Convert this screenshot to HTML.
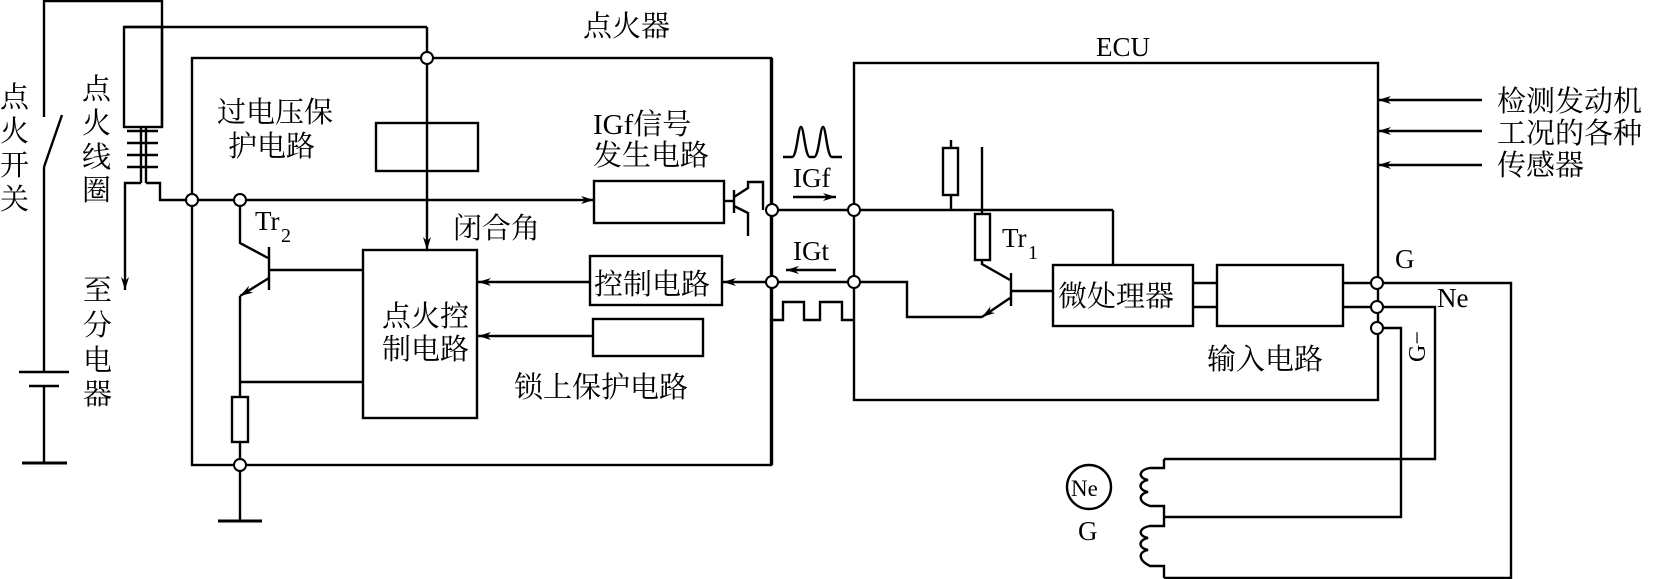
<!DOCTYPE html>
<html><head><meta charset="utf-8"><style>
html,body{margin:0;padding:0;background:#fff;}
svg{display:block;}
text{font-family:"Liberation Serif","Noto Serif CJK SC","Noto Sans CJK SC",serif;fill:#000;}
</style></head><body>
<svg width="1659" height="579" viewBox="0 0 1659 579" xmlns="http://www.w3.org/2000/svg">
<defs>
<marker id="ar" markerWidth="14" markerHeight="8" refX="13" refY="4" orient="auto" markerUnits="userSpaceOnUse">
<path d="M0,0 L13,4 L0,8 L4,4 Z" fill="#000"/></marker>
</defs>
<g fill="none" stroke="#000" stroke-width="2.4">
<polyline points="44,117 44,1 162,1 162,127"/>
<line x1="44" y1="167" x2="62" y2="115"/>
<line x1="44" y1="167" x2="44" y2="372"/>
<line x1="19" y1="372" x2="69" y2="372"/>
<line x1="29" y1="386" x2="59" y2="386"/>
<line x1="44" y1="386" x2="44" y2="463"/>
<line x1="22" y1="463" x2="67" y2="463" stroke-width="3"/>
<rect x="124" y="27" width="38" height="100"/>
<line x1="124" y1="27" x2="427" y2="27"/>
<line x1="427" y1="27" x2="427" y2="250" marker-end="url(#ar)"/>
<line x1="141" y1="127" x2="141" y2="183"/>
<line x1="146" y1="127" x2="146" y2="183"/>
<line x1="127" y1="131" x2="158" y2="131"/>
<line x1="127" y1="143" x2="158" y2="143"/>
<line x1="127" y1="155" x2="158" y2="155"/>
<line x1="127" y1="167" x2="158" y2="167"/>
<polyline points="141,183 125,183 125,290" marker-end="url(#ar)"/>
<polyline points="146,183 160,183 160,200 594,200" marker-end="url(#ar)"/>
<rect x="192" y="58" width="579" height="407"/>
<rect x="376" y="123" width="102" height="48"/>
<polyline points="240,200 240,243 268,258"/>
<line x1="269" y1="247" x2="269" y2="290"/>
<line x1="269" y1="270" x2="363" y2="270"/>
<line x1="269" y1="278" x2="240" y2="296" marker-end="url(#ar)"/>
<polyline points="240,296 240,397"/>
<line x1="240" y1="382" x2="363" y2="382"/>
<rect x="232" y="397" width="16" height="45"/>
<line x1="240" y1="442" x2="240" y2="521"/>
<line x1="218" y1="521" x2="262" y2="521" stroke-width="3"/>
<rect x="363" y="250" width="114" height="168"/>
<rect x="594" y="181" width="130" height="42"/>
<line x1="724" y1="201" x2="734" y2="201"/>
<line x1="734" y1="190" x2="734" y2="213"/>
<polyline points="734,197 748,188 748,182 763,182 763,210"/>
<polyline points="734,206 748,213 748,236"/>
<rect x="590" y="256" width="132" height="49"/>
<line x1="590" y1="282" x2="478" y2="282" marker-end="url(#ar)"/>
<line x1="772" y1="282" x2="723" y2="282" marker-end="url(#ar)"/>
<rect x="593" y="319" width="110" height="37"/>
<line x1="593" y1="336" x2="478" y2="336" marker-end="url(#ar)"/>
<line x1="772" y1="210" x2="854" y2="210"/>
<line x1="772" y1="282" x2="854" y2="282"/>
<line x1="772" y1="58" x2="772" y2="465"/>
<polyline points="771,320 783,320 783,302 804,302 804,320 820,320 820,302 842,302 842,320 855,320"/>
<path d="M783,157 L792,157 C797,157 798,127 801,127 C804,127 805,157 810,157 L814,157 C819,157 820,127 823,127 C826,127 827,157 832,157 L842,157"/>
<line x1="793" y1="197" x2="836" y2="197" marker-end="url(#ar)"/>
<line x1="836" y1="270" x2="786" y2="270" marker-end="url(#ar)"/>
<rect x="854" y="63" width="524" height="337"/>
<line x1="854" y1="210" x2="1113" y2="210"/>
<line x1="1113" y1="210" x2="1113" y2="265"/>
<line x1="951" y1="140" x2="951" y2="148"/>
<rect x="943" y="148" width="15" height="47"/>
<line x1="951" y1="195" x2="951" y2="210"/>
<line x1="982" y1="147" x2="982" y2="214"/>
<rect x="975" y="214" width="15" height="46"/>
<polyline points="982,260 982,264 1010,280"/>
<line x1="1011" y1="273" x2="1011" y2="306"/>
<line x1="1011" y1="291" x2="1053" y2="291"/>
<line x1="1010" y1="298" x2="982" y2="317" marker-end="url(#ar)"/>
<polyline points="982,317 907,317 907,282 854,282"/>
<rect x="1053" y="265" width="140" height="61"/>
<rect x="1217" y="265" width="126" height="61"/>
<line x1="1193" y1="283" x2="1217" y2="283"/>
<line x1="1193" y1="307" x2="1217" y2="307"/>
<line x1="1343" y1="283" x2="1377" y2="283"/>
<line x1="1343" y1="307" x2="1377" y2="307"/>
<line x1="1482" y1="100" x2="1378" y2="100" marker-end="url(#ar)"/>
<line x1="1482" y1="131" x2="1378" y2="131" marker-end="url(#ar)"/>
<line x1="1482" y1="165" x2="1378" y2="165" marker-end="url(#ar)"/>
<polyline points="1383,283 1511,283 1511,578 1164,578"/>
<polyline points="1383,307 1435,307 1435,459 1164,459"/>
<polyline points="1383,328 1401,328 1401,517 1164,517"/>
<path d="M1164,459 L1164,468 L1150,468 C1138,470 1138,478 1148,480 C1138,482 1138,490 1148,492 C1138,494 1138,502 1150,506 L1164,506 L1164,517"/>
<path d="M1164,517 L1164,526 L1150,526 C1138,528 1138,536 1148,538 C1138,540 1138,548 1148,550 C1138,552 1138,560 1150,566 L1164,566 L1164,578"/>
<circle cx="1089" cy="487" r="22"/>
</g>
<g fill="#fff" stroke="#000" stroke-width="2">
<circle cx="192" cy="200" r="6"/><circle cx="240" cy="200" r="6"/>
<circle cx="427" cy="58" r="6"/><circle cx="240" cy="465" r="6"/>
<circle cx="772" cy="210" r="6"/><circle cx="854" cy="210" r="6"/>
<circle cx="772" cy="282" r="6"/><circle cx="854" cy="282" r="6"/>
<circle cx="1377" cy="283" r="6"/><circle cx="1377" cy="307" r="6"/><circle cx="1377" cy="328" r="6"/>
</g>
<g font-size="29">
<text x="0" y="107">点</text><text x="0" y="141">火</text><text x="0" y="175">开</text><text x="0" y="209">关</text>
<text x="82" y="99">点</text><text x="82" y="133">火</text><text x="82" y="167">线</text><text x="82" y="200">圈</text>
<text x="83" y="300">至</text><text x="83" y="335">分</text><text x="83" y="370">电</text><text x="83" y="404">器</text>
<text x="217" y="122">过电压保</text>
<text x="228" y="156">护电路</text>
<text x="583" y="36">点火器</text>
<text x="593" y="134">IGf信号</text>
<text x="593" y="165">发生电路</text>
<text x="453" y="238">闭合角</text>
<text x="594" y="294">控制电路</text>
<text x="382" y="326">点火控</text>
<text x="382" y="359">制电路</text>
<text x="514" y="397">锁上保护电路</text>
<text x="1058" y="306">微处理器</text>
<text x="1207" y="369">输入电路</text>
<text x="1497" y="111">检测发动机</text>
<text x="1497" y="143">工况的各种</text>
<text x="1497" y="175">传感器</text>
</g>
<g font-size="27">
<text x="255" y="230">Tr</text><text x="281" y="242" font-size="20">2</text>
<text x="1002" y="247">Tr</text><text x="1028" y="259" font-size="20">1</text>
<text x="793" y="187">IGf</text>
<text x="793" y="260">IGt</text>
<text x="1096" y="56">ECU</text>
<text x="1395" y="268">G</text>
<text x="1437" y="307">Ne</text>
<text x="1071" y="496" font-size="23">Ne</text>
<text x="1078" y="540">G</text>
<text x="0" y="0" font-size="24" transform="translate(1425,362) rotate(-90)">G−</text>
</g>
</svg>
</body></html>
